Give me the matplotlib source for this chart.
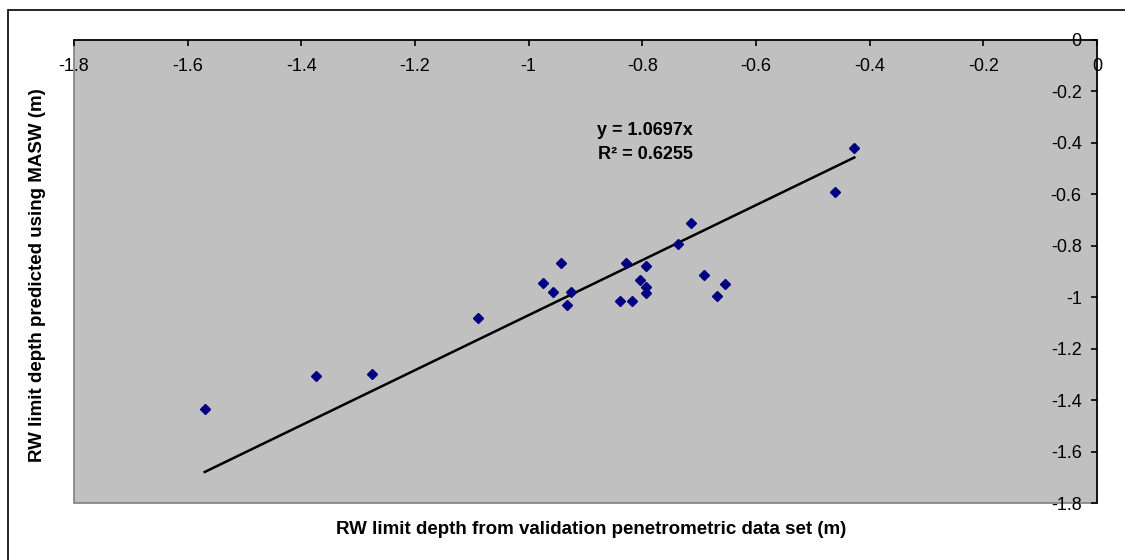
import matplotlib.pyplot as plt
import numpy as np
from matplotlib.patches import Rectangle

plt.rcParams['font.family'] = ['Liberation Sans', 'DejaVu Sans']

# measured points (penetrometric depth vs MASW predicted depth)
x_pen = [-1.570, -1.375, -1.275, -1.089, -0.974, -0.943, -0.957, -0.925, -0.933,
         -0.840, -0.819, -0.829, -0.794, -0.804, -0.794, -0.794, -0.738, -0.714,
         -0.692, -0.654, -0.668, -0.427, -0.461]
y_masw = [-1.433, -1.305, -1.300, -1.081, -0.943, -0.868, -0.981, -0.981, -1.031,
          -1.014, -1.014, -0.868, -0.880, -0.933, -0.962, -0.983, -0.795, -0.713,
          -0.912, -0.949, -0.997, -0.420, -0.591]
slope = 1.0697
r2 = 0.6255

x_ticks = [-1.8, -1.6, -1.4, -1.2, -1, -0.8, -0.6, -0.4, -0.2, 0]
y_ticks = [0, -0.2, -0.4, -0.6, -0.8, -1, -1.2, -1.4, -1.6, -1.8]

fig = plt.figure(figsize=(11.25, 5.6), dpi=100)
ax = fig.add_axes([74 / 1125, 1 - 503 / 560, (1097 - 74) / 1125, (503 - 40) / 560])

ax.set_facecolor('#c0c0c0')
ax.patch.set_edgecolor('#808080')
ax.patch.set_linewidth(1.2)

ax.plot(x_pen, y_masw, 'D', color='#000080', markersize=5, zorder=3)

# trend line through origin
xt = np.array([min(x_pen), max(x_pen)])
ax.plot(xt, slope * xt, color='black', linewidth=1.8, zorder=2)

ax.text(-0.795, -0.35, f'y = {slope}x', ha='center', va='center',
        fontsize=13, fontweight='bold')
ax.text(-0.795, -0.447, f'R² = {r2}', ha='center', va='center',
        fontsize=13, fontweight='bold')

ax.set_xlim(-1.8, 0)
ax.set_ylim(-1.8, 0)
ax.set_xticks(x_ticks)
ax.set_yticks(y_ticks)
ax.set_xticklabels([f'{v:g}' for v in x_ticks])
ax.set_yticklabels([f'{v:g}' for v in y_ticks])

# axes cross at zero: x axis on top, y axis on the right
ax.spines['bottom'].set_position(('data', 0))
ax.spines['left'].set_position(('data', 0))
ax.spines['top'].set_visible(False)
ax.spines['right'].set_visible(False)
for s in ['bottom', 'left']:
    ax.spines[s].set_linewidth(1.2)
    ax.spines[s].set_zorder(4)
ax.tick_params(axis='x', direction='out', length=4, width=1.2, pad=9, labelsize=13)
ax.tick_params(axis='y', direction='out', length=4, width=1.2, pad=7, labelsize=13)

fig.text(591 / 1125, 1 - 530 / 560,
         'RW limit depth from validation penetrometric data set (m)',
         ha='center', va='center', fontsize=13.5, fontweight='bold')
fig.text(38 / 1125, 1 - 275 / 560, 'RW limit depth predicted using MASW (m)',
         ha='center', va='center', rotation=90, fontsize=13.5, fontweight='bold')

# chart border
fig.patches.append(Rectangle((8 / 1125, -0.05), 1.2, 1.05 - 10 / 560,
                             transform=fig.transFigure, fill=False,
                             edgecolor='black', linewidth=1.2))

fig.savefig('out.png', dpi=100)
